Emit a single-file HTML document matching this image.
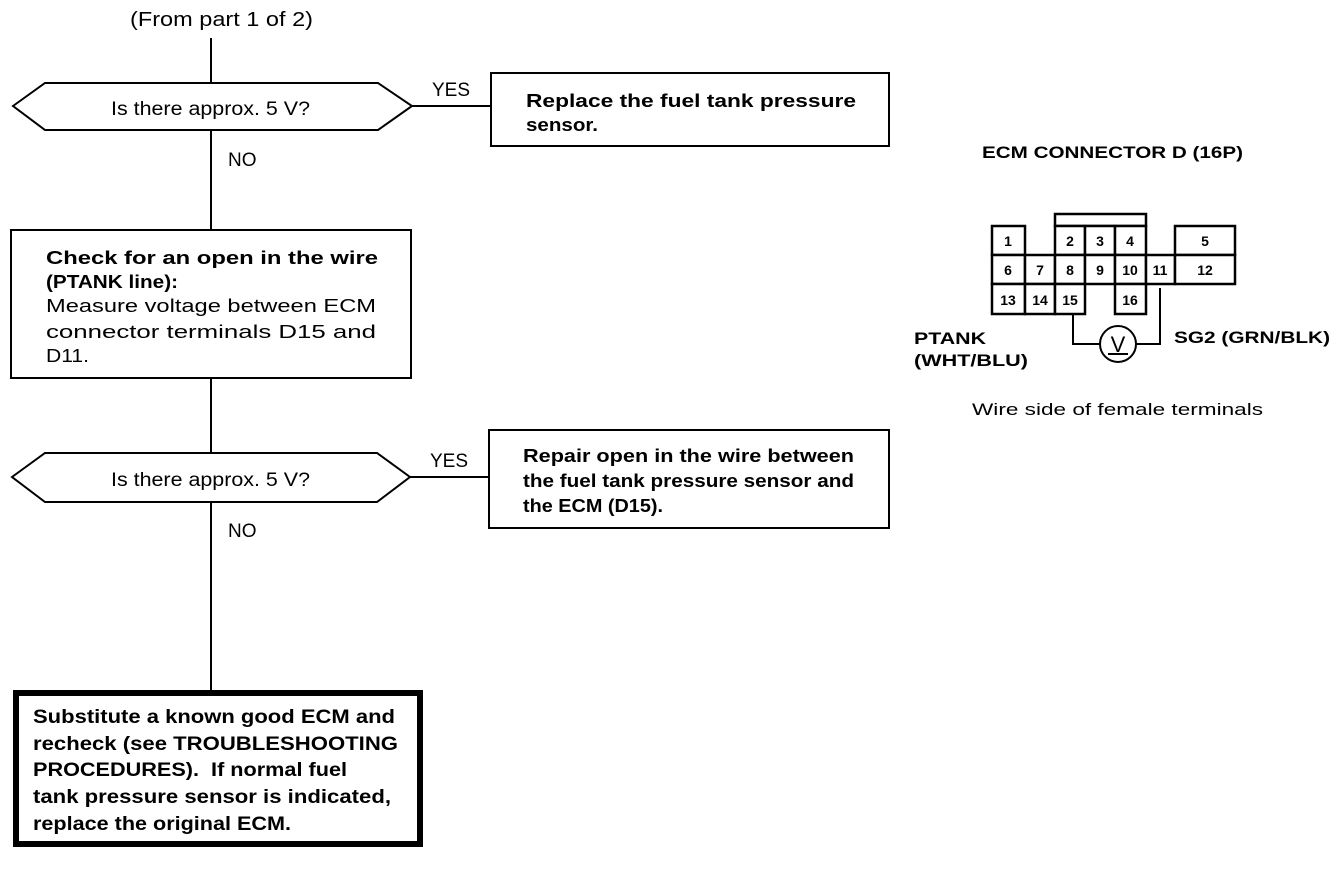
<!DOCTYPE html>
<html><head><meta charset="utf-8"><style>
html,body{margin:0;padding:0;background:#fff;}
svg{display:block;font-family:"Liberation Sans",Arial,sans-serif;}
</style></head><body>
<svg width="1344" height="882" viewBox="0 0 1344 882" xmlns="http://www.w3.org/2000/svg">
<g stroke="#000" fill="none" stroke-width="2">
<line x1="211" y1="38" x2="211" y2="690"/>
<polygon points="13,106 45,83 378,83 412,106 378,130 45,130" fill="#fff"/>
<line x1="412" y1="106" x2="491" y2="106"/>
<rect x="491" y="73" width="398" height="73" fill="#fff"/>
<rect x="11" y="230" width="400" height="148" fill="#fff"/>
<polygon points="12,477 45,453 377,453 410,477 377,502 45,502" fill="#fff"/>
<line x1="410" y1="477" x2="489" y2="477"/>
<rect x="489" y="430" width="400" height="98" fill="#fff"/>
<rect x="16" y="693" width="404" height="151" stroke-width="6" fill="#fff"/>
</g>
<g font-size="19" fill="#000">
<text x="130" y="26" font-size="20" textLength="183" lengthAdjust="spacingAndGlyphs">(From part 1 of 2)</text>
<text x="111" y="115" font-size="19" textLength="199" lengthAdjust="spacingAndGlyphs">Is there approx. 5 V?</text>
<text x="432" y="96" font-size="19">YES</text>
<text x="228" y="166" font-size="19">NO</text>
<text x="111" y="486" font-size="19" textLength="199" lengthAdjust="spacingAndGlyphs">Is there approx. 5 V?</text>
<text x="430" y="467" font-size="19">YES</text>
<text x="228" y="537" font-size="19">NO</text>
</g>
<g font-size="18" font-weight="bold" fill="#000">
<text x="526" y="107" textLength="330" lengthAdjust="spacingAndGlyphs">Replace the fuel tank pressure</text>
<text x="526" y="131" textLength="72" lengthAdjust="spacingAndGlyphs">sensor.</text>
<text x="523" y="462" textLength="331" lengthAdjust="spacingAndGlyphs">Repair open in the wire between</text>
<text x="523" y="487" textLength="331" lengthAdjust="spacingAndGlyphs">the fuel tank pressure sensor and</text>
<text x="523" y="512" textLength="140" lengthAdjust="spacingAndGlyphs">the ECM (D15).</text>
<text x="46" y="264" textLength="332" lengthAdjust="spacingAndGlyphs">Check for an open in the wire</text>
<text x="46" y="288" textLength="132" lengthAdjust="spacingAndGlyphs">(PTANK line):</text>
</g>
<g font-size="18" fill="#000">
<text x="46" y="312" textLength="330" lengthAdjust="spacingAndGlyphs">Measure voltage between ECM</text>
<text x="46" y="338" textLength="330" lengthAdjust="spacingAndGlyphs">connector terminals D15 and</text>
<text x="46" y="362" textLength="43" lengthAdjust="spacingAndGlyphs">D11.</text>
</g>
<g font-size="19" font-weight="bold" fill="#000">
<text x="33" y="723" textLength="362" lengthAdjust="spacingAndGlyphs">Substitute a known good ECM and</text>
<text x="33" y="750" textLength="365" lengthAdjust="spacingAndGlyphs">recheck (see TROUBLESHOOTING</text>
<text x="33" y="776" xml:space="preserve" textLength="314" lengthAdjust="spacingAndGlyphs">PROCEDURES).  If normal fuel</text>
<text x="33" y="803" textLength="358" lengthAdjust="spacingAndGlyphs">tank pressure sensor is indicated,</text>
<text x="33" y="830" textLength="258" lengthAdjust="spacingAndGlyphs">replace the original ECM.</text>
</g>
<g stroke="#000" fill="#fff" stroke-width="2.5">
<rect x="1055" y="214" width="91" height="12"/>
<rect x="992" y="226" width="33" height="29"/>
<rect x="1055" y="226" width="30" height="29"/>
<rect x="1085" y="226" width="30" height="29"/>
<rect x="1115" y="226" width="31" height="29"/>
<rect x="1175" y="226" width="60" height="29"/>
<rect x="992" y="255" width="33" height="29"/>
<rect x="1025" y="255" width="30" height="29"/>
<rect x="1055" y="255" width="30" height="29"/>
<rect x="1085" y="255" width="30" height="29"/>
<rect x="1115" y="255" width="31" height="29"/>
<rect x="1146" y="255" width="29" height="29"/>
<rect x="1175" y="255" width="60" height="29"/>
<rect x="992" y="284" width="33" height="30"/>
<rect x="1025" y="284" width="30" height="30"/>
<rect x="1055" y="284" width="30" height="30"/>
<rect x="1115" y="284" width="31" height="30"/>
</g>
<g stroke="#000" fill="none" stroke-width="2">
<polyline points="1073,314 1073,344 1100,344"/>
<polyline points="1136,344 1160,344 1160,288"/>
<circle cx="1118" cy="344" r="18" fill="#fff"/>
<line x1="1108" y1="354" x2="1128" y2="354"/>
</g>
<text x="1118" y="352" font-size="22" text-anchor="middle">V</text>
<g font-size="14" font-weight="bold" text-anchor="middle" fill="#000">
<text x="1008" y="246">1</text><text x="1070" y="246">2</text><text x="1100" y="246">3</text><text x="1130" y="246">4</text><text x="1205" y="246">5</text>
<text x="1008" y="275">6</text><text x="1040" y="275">7</text><text x="1070" y="275">8</text><text x="1100" y="275">9</text><text x="1130" y="275">10</text><text x="1160" y="275">11</text><text x="1205" y="275">12</text>
<text x="1008" y="305">13</text><text x="1040" y="305">14</text><text x="1070" y="305">15</text><text x="1130" y="305">16</text>
</g>
<g font-size="17" font-weight="bold" fill="#000">
<text x="982" y="158" textLength="261" lengthAdjust="spacingAndGlyphs">ECM CONNECTOR D (16P)</text>
<text x="914" y="344" textLength="72" lengthAdjust="spacingAndGlyphs">PTANK</text>
<text x="914" y="366" textLength="114" lengthAdjust="spacingAndGlyphs">(WHT/BLU)</text>
<text x="1174" y="343" textLength="156" lengthAdjust="spacingAndGlyphs">SG2 (GRN/BLK)</text>
</g>
<text x="972" y="415" font-size="17" fill="#000" textLength="291" lengthAdjust="spacingAndGlyphs">Wire side of female terminals</text>
</svg>
</body></html>
